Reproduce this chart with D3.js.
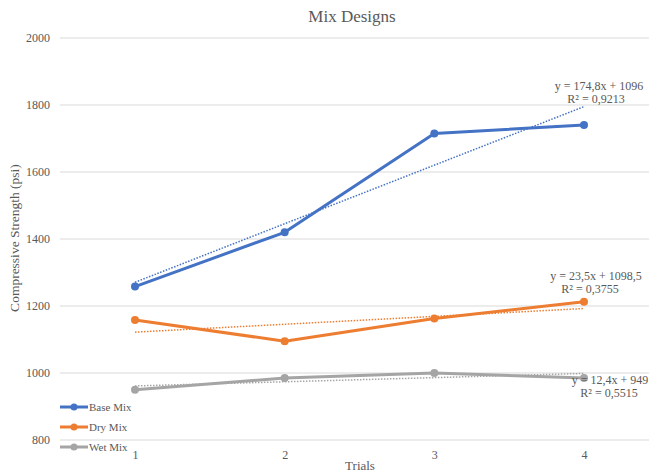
<!DOCTYPE html>
<html>
<head>
<meta charset="utf-8">
<script src="https://cdn.jsdelivr.net/npm/d3@7"></script>
<style>
  html, body { margin: 0; padding: 0; background: #fff; }
  svg { display: block; font-family: "Liberation Serif", "Times New Roman", serif; }
</style>
</head>
<body>
<svg id="chart" width="649" height="473"></svg>
<script>
// Compressive strength per trial for each mix
const trials = ["1", "2", "3", "4"];
const baseMix = [1258, 1420, 1715, 1740];
const dryMix = [1158, 1095, 1163, 1213];
const wetMix = [950, 985, 1000, 985];
const yTicks = [800, 1000, 1200, 1400, 1600, 1800, 2000];

// Linear trend coefficients and their labels
const baseTrend = { slope: 174.8, intercept: 1096, eq: "y = 174,8x + 1096", r2: "R² = 0,9213" };
const dryTrend = { slope: 23.5, intercept: 1098.5, eq: "y = 23,5x + 1098,5", r2: "R² = 0,3755" };
const wetTrend = { slope: 12.4, intercept: 949, eq: "y = 12,4x + 949", r2: "R² = 0,5515" };

const series = [
  { name: "Base Mix", values: baseMix, color: "#4472C4", trend: baseTrend, eqX: 599, r2X: 596, labelY: 90 },
  { name: "Dry Mix", values: dryMix, color: "#ED7D31", trend: dryTrend, eqX: 596, r2X: 590, labelY: 280 },
  { name: "Wet Mix", values: wetMix, color: "#A5A5A5", trend: wetTrend, eqX: 610, r2X: 609, labelY: 384 }
];

const svg = d3.select("#chart");
const x = d3.scalePoint().domain(trials).range([135, 584]);
const y = d3.scaleLinear().domain([800, 2000]).range([440, 38]);

// Horizontal gridlines
svg.append("g").selectAll("line").data(yTicks).join("line")
  .attr("x1", 60).attr("x2", 649)
  .attr("y1", d => y(d)).attr("y2", d => y(d))
  .attr("stroke", "#d9d9d9").attr("stroke-width", 1);

// Y axis tick labels
const yAxis = svg.append("g").attr("transform", "translate(50,0)")
  .call(d3.axisLeft(y).tickValues(yTicks).tickSize(0).tickPadding(0).tickFormat(d3.format("d")));
yAxis.select(".domain").remove();
yAxis.selectAll("text").attr("fill", "#595959").attr("font-size", 12)
  .attr("font-family", "Liberation Serif, serif");

// X axis tick labels
const xAxis = svg.append("g").attr("transform", "translate(0,450)")
  .call(d3.axisBottom(x).tickSize(0).tickPadding(0));
xAxis.select(".domain").remove();
xAxis.selectAll("text").attr("fill", "#595959").attr("font-size", 12)
  .attr("font-family", "Liberation Serif, serif");

// Title and axis titles
svg.append("text").attr("x", 352).attr("y", 22).attr("text-anchor", "middle")
  .attr("font-size", 17).attr("fill", "#595959").text("Mix Designs");
svg.append("text").attr("x", 360).attr("y", 470).attr("text-anchor", "middle")
  .attr("font-size", 13).attr("fill", "#595959").text("Trials");
svg.append("text").attr("transform", "translate(19,238) rotate(-90)").attr("text-anchor", "middle")
  .attr("font-size", 13.5).attr("fill", "#595959").text("Compressive Strength (psi)");

const line = d3.line().x((d, i) => x(trials[i])).y(d => y(d));

series.forEach(s => {
  const g = svg.append("g");
  // dotted linear trendline across the trials
  const t1 = 1, t2 = trials.length;
  g.append("line")
    .attr("x1", x(trials[0])).attr("y1", y(s.trend.intercept + s.trend.slope * t1))
    .attr("x2", x(trials[trials.length - 1])).attr("y2", y(s.trend.intercept + s.trend.slope * t2))
    .attr("stroke", s.color).attr("stroke-width", 1.5).attr("stroke-dasharray", "1.5,1.5");
  // data line with markers
  g.append("path").datum(s.values).attr("d", line)
    .attr("fill", "none").attr("stroke", s.color).attr("stroke-width", 3)
    .attr("stroke-linejoin", "round").attr("stroke-linecap", "round");
  g.selectAll("circle").data(s.values).join("circle")
    .attr("cx", (d, i) => x(trials[i])).attr("cy", d => y(d)).attr("r", 4)
    .attr("fill", s.color);
});

// Trendline equation labels
series.forEach(s => {
  const t = svg.append("text").attr("text-anchor", "middle").attr("font-size", 12).attr("fill", "#595959");
  t.append("tspan").attr("x", s.eqX).attr("y", s.labelY).text(s.trend.eq);
  t.append("tspan").attr("x", s.r2X).attr("y", s.labelY + 13).text(s.trend.r2);
});

// Legend
const legend = svg.append("g").selectAll("g").data(series).join("g")
  .attr("transform", (d, i) => `translate(60,${407 + i * 20})`);
legend.append("line").attr("x1", 0).attr("x2", 28).attr("stroke", d => d.color).attr("stroke-width", 3);
legend.append("circle").attr("cx", 14).attr("r", 3.5).attr("fill", d => d.color);
legend.append("text").attr("x", 29).attr("y", 4).attr("font-size", 11).attr("fill", "#595959")
  .text(d => d.name);
</script>
</body>
</html>
